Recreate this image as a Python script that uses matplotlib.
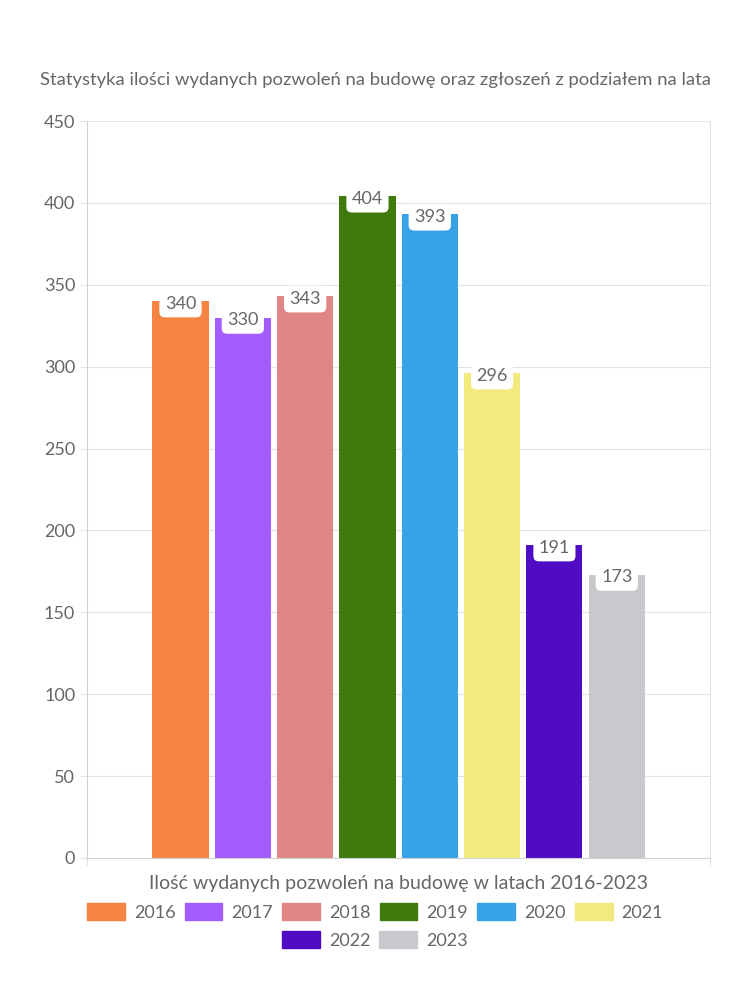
import matplotlib.pyplot as plt
import numpy as np

years = ["2016", "2017", "2018", "2019", "2020", "2021", "2022", "2023"]
values = [340, 330, 343, 404, 393, 296, 191, 173]
colors = ["#F58442", "#A25CFF", "#E08585", "#3E7B0C",
          "#38A2E8", "#F0EB7C", "#4F0CC4", "#C9C9CD"]

title = "Statystyka ilości wydanych pozwoleń na budowę oraz zgłoszeń z podziałem na lata"
xlabel = "Ilość wydanych pozwoleń na budowę w latach 2016-2023"

plt.rcParams["font.family"] = ["Lato", "DejaVu Sans"]
text_gray = "#666666"
grid_gray = "#E3E3E3"

fig = plt.figure(figsize=(7.5, 10), dpi=100)
ax = fig.add_axes([0.116, 0.142, 0.831, 0.737])

n = len(values)
slot = 0.8 / n
xs = -0.4 + slot / 2 + slot * np.arange(n)
ax.bar(xs, values, width=slot * 0.9, color=colors, zorder=2)

for x, v in zip(xs, values):
    ax.annotate(str(v), (x, v), xytext=(0, -2), textcoords="offset points",
                ha="center", va="center", fontsize=13, color=text_gray, zorder=3,
                bbox=dict(boxstyle="round,pad=0.3,rounding_size=0.3",
                          fc="white", ec="none"))

ax.set_xlim(-0.5, 0.5)
ax.set_ylim(0, 450)
ax.set_yticks(np.arange(0, 451, 50))
ax.set_xticks([-0.5, 0.5])
ax.set_xticklabels(["", ""])
ax.tick_params(axis="y", labelsize=13, colors=grid_gray, labelcolor=text_gray, length=5)
ax.tick_params(axis="x", length=5, color=grid_gray)
ax.grid(axis="y", color=grid_gray, linewidth=0.8, zorder=0)
for side in ["left", "bottom"]:
    ax.spines[side].set_color("#D0D0D0")
    ax.spines[side].set_linewidth(0.8)
ax.spines["top"].set_visible(False)
ax.spines["right"].set_color(grid_gray)
ax.spines["right"].set_linewidth(0.8)

ax.set_xlabel(xlabel, fontsize=14, color=text_gray, labelpad=4)
fig.text(0.5, 0.92, title, ha="center", va="center", fontsize=13.3, color=text_gray)

handles = [plt.Rectangle((0, 0), 1, 1, color=c) for c in colors]
leg_kw = dict(loc="center", frameon=False, fontsize=13, handlelength=2.1,
              handleheight=1.0, columnspacing=0.5, handletextpad=0.5)
leg1 = fig.legend(handles[:6], years[:6], ncol=6, bbox_to_anchor=(0.5, 0.088), **leg_kw)
leg2 = fig.legend(handles[6:], years[6:], ncol=2, bbox_to_anchor=(0.5, 0.060), **leg_kw)
for leg in (leg1, leg2):
    for t in leg.get_texts():
        t.set_color(text_gray)

fig.savefig("out.png", dpi=100, facecolor="white")
